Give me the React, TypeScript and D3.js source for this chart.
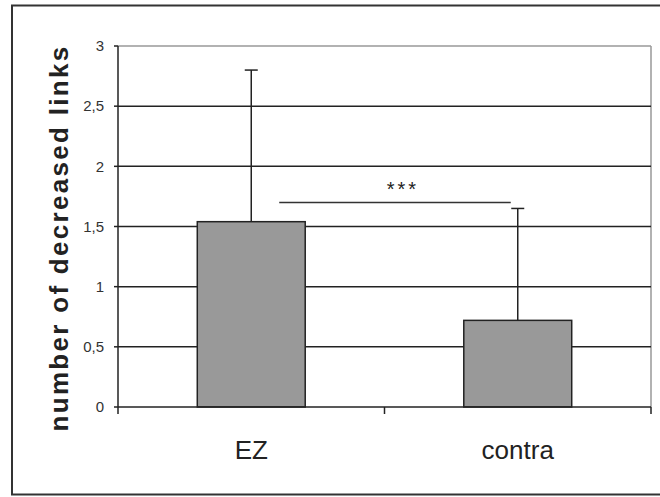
import * as d3 from "d3";

const categories = ["EZ", "contra"];
const means = [1.54, 0.72];
const errors = [1.26, 0.93];
const yTicks = [0, 0.5, 1, 1.5, 2, 2.5, 3];
const tickLabels = ["0", "0,5", "1", "1,5", "2", "2,5", "3"];
const sigLevel = 1.7;
const sigLabel = "***";
const yTitle = "number of decreased links";

const width = 660;
const height = 497;
const margin = { left: 118, right: 9, top: 46, bottom: 90 };

const App = () => {
  const x = d3
    .scaleBand<string>()
    .domain(categories)
    .range([margin.left, width - margin.right])
    .padding(0);
  const y = d3
    .scaleLinear()
    .domain([0, 3])
    .range([height - margin.bottom, margin.top]);

  const bw = x.bandwidth();
  const barW = bw * 0.405;
  const capW = 13;
  const x0 = margin.left;
  const x1 = width - margin.right;
  const y0 = y(0);

  const center = (c: string) => (x(c) as number) + bw / 2;
  const sigStart = center(categories[0]) + bw * 0.105;
  const sigEnd = center(categories[1]) - 7;

  return (
    <svg
      width={width}
      height={height}
      style={{ position: "absolute", left: 0, top: 0, background: "#fff" }}
      fontFamily="'Liberation Sans', Arial, sans-serif"
    >
      {/* outer frame */}
      <rect x={12} y={5.5} width={width} height={489} fill="none" stroke="#333" strokeWidth={2} />

      {/* plot border */}
      <line x1={x0} x2={x1} y1={y(3)} y2={y(3)} stroke="#999" strokeWidth={1.5} />
      <line x1={x1} x2={x1} y1={y(3)} y2={y0} stroke="#999" strokeWidth={1.5} />

      {/* gridlines */}
      {yTicks
        .filter((t) => t > 0 && t < 3)
        .map((t) => (
          <line key={t} x1={x0} x2={x1} y1={y(t)} y2={y(t)} stroke="#222" strokeWidth={1.5} />
        ))}

      {/* bars */}
      {categories.map((c, i) => (
        <g key={c}>
          <line
            x1={center(c)}
            x2={center(c)}
            y1={y(means[i])}
            y2={y(means[i] + errors[i])}
            stroke="#222"
            strokeWidth={1.5}
          />
          <line
            x1={center(c) - capW / 2}
            x2={center(c) + capW / 2}
            y1={y(means[i] + errors[i])}
            y2={y(means[i] + errors[i])}
            stroke="#222"
            strokeWidth={1.5}
          />
          <rect
            x={center(c) - barW / 2}
            y={y(means[i])}
            width={barW}
            height={y0 - y(means[i])}
            fill="#999999"
            stroke="#222"
            strokeWidth={1.5}
          />
          <text x={center(c)} y={459} textAnchor="middle" fontSize={26} fill="#222">
            {c}
          </text>
        </g>
      ))}

      {/* significance */}
      <line x1={sigStart} x2={sigEnd} y1={y(sigLevel)} y2={y(sigLevel)} stroke="#333" strokeWidth={1.5} />
      <text
        x={(sigStart + sigEnd) / 2 + 8}
        y={y(sigLevel) - 6}
        textAnchor="middle"
        fontSize={20}
        letterSpacing={3}
        fill="#222"
      >
        {sigLabel}
      </text>

      {/* axes */}
      <line x1={x0} x2={x0} y1={y(3)} y2={y0} stroke="#222" strokeWidth={1.5} />
      <line x1={x0} x2={x1} y1={y0} y2={y0} stroke="#222" strokeWidth={1.5} />
      {yTicks.map((t, i) => (
        <g key={t}>
          <line x1={x0 - 4} x2={x0} y1={y(t)} y2={y(t)} stroke="#222" strokeWidth={1.5} />
          <text x={x0 - 14} y={y(t)} dy="0.35em" textAnchor="end" fontSize={15} fill="#333">
            {tickLabels[i]}
          </text>
        </g>
      ))}
      {[...categories.map((c) => x(c) as number), x1].map((tx) => (
        <line key={tx} x1={tx} x2={tx} y1={y0} y2={y0 + 7} stroke="#222" strokeWidth={1.5} />
      ))}

      {/* y title */}
      <text
        transform={`translate(68, 238) rotate(-90)`}
        textAnchor="middle"
        fontSize={26}
        fontWeight="bold"
        letterSpacing={2.3}
        fill="#222"
      >
        {yTitle}
      </text>
    </svg>
  );
};

export default App;
